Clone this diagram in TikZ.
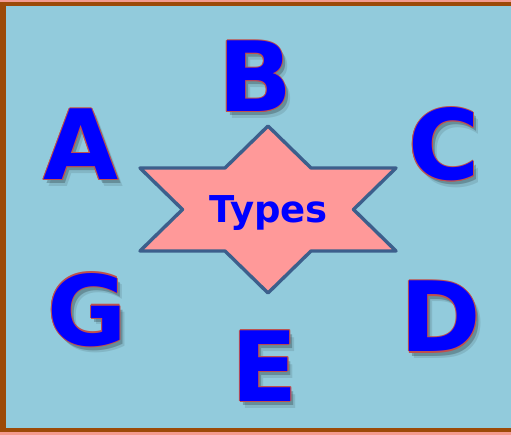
\documentclass[tikz,border=0pt]{standalone}
\usepackage{fontspec}
\setmainfont{DejaVu Sans}

\definecolor{panelblue}{HTML}{92CBDC}
\definecolor{framebrown}{HTML}{9C4A08}
\definecolor{framepink}{HTML}{F49A8E}
\definecolor{starpink}{HTML}{FF9999}
\definecolor{staredge}{HTML}{3C5F8C}
\definecolor{rimred}{HTML}{C0504D}
\definecolor{faceblue}{HTML}{0000FF}

% one big letter: soft shadow, thin red rim, blue face
\newcommand{\bigletter}[3]{%
  \node[lettershade, opacity=.1, xshift=5pt, yshift=-7pt] (#1-far) at (#2) {#3};
  \node[lettershade, xshift=3pt, yshift=-4pt] (#1-near) at (#2) {#3};
  \foreach \dx/\dy [count=\k] in {1/0,-1/0,0/1,0/-1,.7/.7,-.7/.7,.7/-.7,-.7/-.7}
    \node[letterrim, xshift=\dx pt, yshift=\dy pt] (#1-rim\k) at (#2) {#3};
  \node[letterface] (#1) at (#2) {#3};
}

\begin{document}
\begin{tikzpicture}[
  x=1pt, y=-1pt,
  glyph/.style={inner sep=0pt, anchor=base, font=\fontsize{97}{97}\selectfont\bfseries},
  lettershade/.style={glyph, text=black, opacity=.22},
  letterrim/.style={glyph, text=rimred},
  letterface/.style={glyph, text=faceblue},
  starbox/.style={fill=starpink, draw=staredge, line width=3.4pt, line join=round},
  title/.style={inner sep=0pt, anchor=base, text=faceblue, font=\fontsize{37}{37}\selectfont\bfseries}
]
\useasboundingbox (0,0) rectangle (511,435);

% Frame
\fill[framepink] (0,0) rectangle (511,435);
\fill[framebrown] (0,2) rectangle (511,432);
\fill[panelblue] (6,6) rectangle (511,428);

% Star
\draw[starbox] (268,126) -- (311,168) -- (396,168) -- (353.5,209.5) -- (396,251)
  -- (311,251) -- (268,293) -- (225,251) -- (140,251) -- (182.5,209.5)
  -- (140,168) -- (225,168) -- cycle;
\node[title] (types) at (268.5,223) {Types};

% Letters
\bigletter{a}{81,180}{A}
\bigletter{b}{255,112}{B}
\bigletter{c}{444,180}{C}
\bigletter{d}{441,352}{D}
\bigletter{e}{265,401}{E}
\bigletter{g}{87,345}{G}
\end{tikzpicture}
\end{document}
